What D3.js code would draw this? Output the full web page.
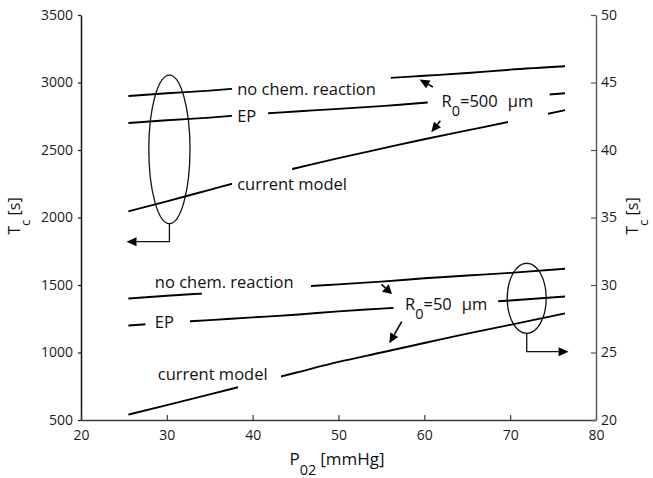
<!DOCTYPE html>
<html>
<head>
<meta charset="utf-8">
<script src="https://cdn.jsdelivr.net/npm/d3@7"></script>
<style>
  html, body { margin: 0; padding: 0; background: #fff; }
  svg { display: block; font-family: "Open Sans", sans-serif; }
</style>
</head>
<body>
<svg id="chart" width="653" height="478"></svg>
<script>
// Oxygen partial pressure grid (mmHg)
const pO2 = [25.5, 30, 35, 40, 45, 50, 55, 60, 65, 70, 76.4];

// R0 = 500 µm : clearance time Tc (s), left axis
const tcNoChem500 = [2900, 2920, 2940, 2965, 2985, 3005, 3030, 3050, 3070, 3095, 3120];
const tcEP500     = [2700, 2720, 2740, 2765, 2785, 2805, 2825, 2850, 2870, 2890, 2920];
const tcModel500  = [2045, 2120, 2205, 2290, 2365, 2440, 2510, 2580, 2645, 2710, 2795];

// R0 = 50 µm : clearance time Tc (s), right axis
const tcNoChem50 = [29.0, 29.2, 29.4, 29.6, 29.85, 30.05, 30.25, 30.5, 30.7, 30.9, 31.2];
const tcEP50     = [27.0, 27.2, 27.4, 27.6, 27.8, 28.05, 28.25, 28.45, 28.65, 28.85, 29.15];
const tcModel50  = [20.4, 21.1, 21.9, 22.7, 23.5, 24.3, 25.0, 25.7, 26.4, 27.05, 27.9];

// Tick values
const xTicks      = [20, 30, 40, 50, 60, 70, 80];
const yLeftTicks  = [500, 1000, 1500, 2000, 2500, 3000, 3500];
const yRightTicks = [20, 25, 30, 35, 40, 45, 50];

const W = 653, H = 478;
const svg = d3.select("#chart");
const defs = svg.append("defs");

const x  = d3.scaleLinear().domain([20, 80]).range([81, 596]);
const yL = d3.scaleLinear().domain([500, 3500]).range([420, 15]);
const yR = d3.scaleLinear().domain([20, 50]).range([420, 15]);
const fmt = d3.format("d");

// ---- axes ----
function styleAxis(g, color, width) {
  g.select(".domain").attr("stroke", color).attr("stroke-width", width);
  g.selectAll(".tick line").attr("stroke", color).attr("stroke-width", 1.2);
  g.selectAll(".tick text")
    .attr("fill", "#1a1a1a")
    .style("font-size", "14px")
    .style("font-family", "'Open Sans', sans-serif");
}

const gLeft = svg.append("g")
  .attr("transform", `translate(${x(20)},0)`)
  .call(d3.axisLeft(yL).tickValues(yLeftTicks).tickFormat(fmt)
    .tickSize(3).tickSizeOuter(0).tickPadding(5));
styleAxis(gLeft, "#111", 1.5);

const gBottom = svg.append("g")
  .attr("transform", `translate(0,${yL(500)})`)
  .call(d3.axisBottom(x).tickValues(xTicks).tickFormat(fmt)
    .tickSizeInner(-5).tickSizeOuter(0).tickPadding(10));
styleAxis(gBottom, "#3a3a3a", 1.4);

const gRight = svg.append("g")
  .attr("transform", `translate(${x(80)},0)`)
  .call(d3.axisRight(yR).tickValues(yRightTicks).tickFormat(fmt)
    .tickSizeInner(-5).tickSizeOuter(0).tickPadding(5));
styleAxis(gRight, "#555", 1.4);

// ---- curves (each is interrupted where its label sits) ----
const series = [
  { values: tcNoChem500, scale: yL, shown: [[25.5, 37.6], [56.1, 76.4]] },
  { values: tcEP500,     scale: yL, shown: [[25.5, 37.6], [41.8, 60.4], [74.6, 76.4]] },
  { values: tcModel500,  scale: yL, shown: [[25.5, 37.6], [44.6, 69.75], [74.4, 76.4]] },
  { values: tcNoChem50,  scale: yR, shown: [[25.5, 34.1], [46.8, 76.4]] },
  { values: tcEP50,      scale: yR, shown: [[25.5, 27.5], [32.7, 56.4], [68.6, 76.4]] },
  { values: tcModel50,   scale: yR, shown: [[25.5, 38.3], [43.3, 76.4]] }
];

series.forEach((s, k) => {
  const cp = defs.append("clipPath").attr("id", "seg" + k);
  s.shown.forEach(([a, b]) => {
    cp.append("rect")
      .attr("x", x(a)).attr("width", x(b) - x(a))
      .attr("y", 0).attr("height", H);
  });
  const gen = d3.line()
    .x((d, i) => x(pO2[i]))
    .y(d => s.scale(d))
    .curve(d3.curveMonotoneX);
  svg.append("path")
    .attr("d", gen(s.values))
    .attr("fill", "none")
    .attr("stroke", "#000")
    .attr("stroke-width", 1.9)
    .attr("clip-path", `url(#seg${k})`);
});

// ---- curve labels ----
const labelFont = 16.5;
function label(px, py, parts) {
  const t = svg.append("text")
    .attr("x", px).attr("y", py)
    .attr("fill", "#111")
    .style("font-size", labelFont + "px");
  parts.forEach(p => {
    const ts = t.append("tspan").text(p.text);
    if (p.dy) ts.attr("dy", p.dy);
    if (p.dx) ts.attr("dx", p.dx);
    if (p.size) ts.style("font-size", p.size + "px");
  });
  return t;
}

label(x(38.2), yL(2907), [{ text: "no chem. reaction" }]);
label(x(38.2), yL(2704), [{ text: "EP" }]);
label(x(38.2), yL(2204), [{ text: "current model" }]);
label(x(62.0), yL(2821), [
  { text: "R" }, { text: "0", dy: 9, size: 14.5 }, { text: "=500", dy: -9 }, { text: "μm", dx: 10 }
]);

label(x(28.6), yR(29.78), [{ text: "no chem. reaction" }]);
label(x(28.6), yR(26.8),  [{ text: "EP" }]);
label(x(28.95), yR(22.94), [{ text: "current model" }]);
label(x(57.75), yR(28.15), [
  { text: "R" }, { text: "0", dy: 9, size: 14.5 }, { text: "=50", dy: -9 }, { text: "μm", dx: 10 }
]);

// ---- annotation arrows ----
const ann = svg.append("g").attr("stroke", "#000").attr("fill", "#000");
function arrow(x1, y1, x2, y2, headLen, headW, sw) {
  const dx = x2 - x1, dy = y2 - y1, L = Math.hypot(dx, dy);
  const ux = dx / L, uy = dy / L;
  const bx = x2 - ux * headLen, by = y2 - uy * headLen;
  ann.append("line")
    .attr("x1", x1).attr("y1", y1).attr("x2", bx).attr("y2", by)
    .attr("stroke-width", sw);
  ann.append("path")
    .attr("d", `M${x2},${y2}L${bx - uy * headW},${by + ux * headW}L${bx + uy * headW},${by - ux * headW}Z`)
    .attr("stroke", "none");
}

// R0 = 500 µm pointers
arrow(x(61.0), yL(2967), x(59.44), yL(3022), 10, 4.5, 1.6);
arrow(x(61.86), yL(2717), x(60.81), yL(2631), 10, 4.5, 1.6);
// R0 = 50 µm pointers
arrow(x(55.0), yR(30.05), x(56.23), yR(29.33), 9, 5, 1.6);
arrow(x(57.36), yR(27.28), x(55.92), yR(25.68), 10, 4.5, 1.6);

// ---- group ellipses with axis pointers ----
function groupMarker(cx, cy, rx, ry, yScale, dropTo, arrowX) {
  const ex = x(cx), ey = yScale(cy);
  const erx = x(cx + rx) - ex, ery = yScale(cy - ry) - ey;
  svg.append("ellipse")
    .attr("cx", ex).attr("cy", ey).attr("rx", erx).attr("ry", ery)
    .attr("fill", "none").attr("stroke", "#111").attr("stroke-width", 1.3);
  const yb = yScale(dropTo), xa = x(arrowX);
  const dir = Math.sign(xa - ex);
  const headLen = 10;
  svg.append("path")
    .attr("d", `M${ex},${ey + ery}V${yb}H${xa - dir * headLen}`)
    .attr("fill", "none").attr("stroke", "#111").attr("stroke-width", 1.3);
  svg.append("path")
    .attr("d", `M${xa},${yb}L${xa - dir * headLen},${yb - 4.5}L${xa - dir * headLen},${yb + 4.5}Z`)
    .attr("fill", "#000");
}
groupMarker(30.3, 2505, 2.4, 550, yL, 1821, 25.3);
groupMarker(71.93, 29.01, 2.27, 2.6, yR, 25.06, 76.8);

// ---- axis titles ----
function subTitle(tx, ty, rot, size, main, sub, rest) {
  const t = svg.append("text")
    .attr("transform", `translate(${tx},${ty}) rotate(${rot})`)
    .attr("text-anchor", "middle")
    .attr("fill", "#111")
    .style("font-size", size + "px");
  t.append("tspan").text(main);
  t.append("tspan").attr("dy", 10).style("font-size", (size - 2.5) + "px").text(sub);
  t.append("tspan").attr("dy", -10).attr("dx", 4).text(rest);
}
subTitle(20, 216, -90, 16, "T", "c", "[s]");
subTitle(638, 216, -90, 16, "T", "c", "[s]");
subTitle(337, 465, 0, 17, "P", "02", "[mmHg]");
</script>
</body>
</html>
